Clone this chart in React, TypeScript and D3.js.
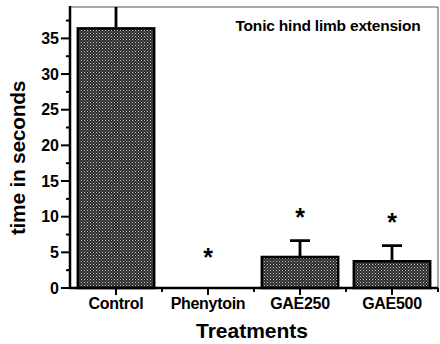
import { useRef, useEffect } from "react";
import * as d3 from "d3";

const categories = ["Control", "Phenytoin", "GAE250", "GAE500"];
const means = [36.4, 0, 4.35, 3.75];
const errors = [4.5, 0, 2.3, 2.2];
const starLevels = [null, 5.0, 10.6, 9.9];
const yTicks = [0, 5, 10, 15, 20, 25, 30, 35];

const App = () => {
  const svgRef = useRef<SVGSVGElement>(null);
  const width = 440;
  const height = 344;
  const margin = { top: 7, right: 2, bottom: 56, left: 70 };

  useEffect(() => {
    const svg = d3.select(svgRef.current);
    svg.selectAll("*").remove();
    const font = "'Liberation Sans', Arial, sans-serif";

    const x = d3
      .scaleBand()
      .domain(categories)
      .range([margin.left, width - margin.right])
      .paddingInner(0.17)
      .paddingOuter(0.085);

    const y = d3
      .scaleLinear()
      .domain([0, 39.4])
      .range([height - margin.bottom, margin.top]);

    const defs = svg.append("defs");
    const pat = defs
      .append("pattern")
      .attr("id", "stipple")
      .attr("width", 3)
      .attr("height", 3)
      .attr("patternUnits", "userSpaceOnUse");
    pat.append("rect").attr("width", 3).attr("height", 3).attr("fill", "#2a2a2a");
    pat.append("rect").attr("x", 0).attr("y", 0).attr("width", 1).attr("height", 1).attr("fill", "#c4c4c4");
    pat.append("rect").attr("x", 1.5).attr("y", 1.5).attr("width", 1).attr("height", 1).attr("fill", "#a0a0a0");

    defs
      .append("clipPath")
      .attr("id", "plotClip")
      .append("rect")
      .attr("x", margin.left)
      .attr("y", margin.top)
      .attr("width", width - margin.left - margin.right)
      .attr("height", height - margin.top - margin.bottom);

    // frame (top and right)
    svg
      .append("path")
      .attr("d", `M${margin.left},${margin.top}H${width - margin.right}V${y(0)}`)
      .attr("fill", "none")
      .attr("stroke", "#555")
      .attr("stroke-width", 1);

    const plot = svg.append("g").attr("clip-path", "url(#plotClip)");

    // error bars
    const idx = d3.range(categories.length).filter((i) => means[i] > 0);
    const cx = (i: number) => x(categories[i])! + x.bandwidth() / 2;
    plot
      .selectAll(".err")
      .data(idx)
      .join("path")
      .attr("class", "err")
      .attr("d", (i) => {
        const c = cx(i);
        const top = y(means[i] + errors[i]);
        return `M${c},${y(means[i])}V${top}M${c - 10},${top}H${c + 10}`;
      })
      .attr("stroke", "#000")
      .attr("stroke-width", 2.8)
      .attr("fill", "none");

    // bars
    svg
      .selectAll(".bar")
      .data(idx)
      .join("rect")
      .attr("class", "bar")
      .attr("x", (i) => x(categories[i])!)
      .attr("y", (i) => y(means[i]))
      .attr("width", x.bandwidth())
      .attr("height", (i) => y(0) - y(means[i]))
      .attr("fill", "url(#stipple)")
      .attr("stroke", "#000")
      .attr("stroke-width", 2.5);

    // stars
    svg
      .selectAll(".star")
      .data(d3.range(categories.length).filter((i) => starLevels[i] !== null))
      .join("text")
      .attr("class", "star")
      .attr("x", (i) => cx(i))
      .attr("y", (i) => y(starLevels[i] as number) + 14)
      .attr("text-anchor", "middle")
      .attr("font-family", font)
      .attr("font-weight", "bold")
      .attr("font-size", 25)
      .text("*");

    // y axis
    const yAxis = svg.append("g");
    yAxis
      .append("line")
      .attr("x1", margin.left)
      .attr("x2", margin.left)
      .attr("y1", margin.top - 1)
      .attr("y2", y(0) + 1)
      .attr("stroke", "#000")
      .attr("stroke-width", 2.5);
    const minor = d3.range(0, 39.4, 2.5);
    yAxis
      .selectAll(".ytick")
      .data(minor)
      .join("line")
      .attr("x1", (d) => (d % 5 === 0 ? margin.left - 9 : margin.left - 4))
      .attr("x2", margin.left)
      .attr("y1", (d) => y(d))
      .attr("y2", (d) => y(d))
      .attr("stroke", "#000")
      .attr("stroke-width", 2);
    yAxis
      .selectAll(".ylab")
      .data(yTicks)
      .join("text")
      .attr("x", margin.left - 11)
      .attr("y", (d) => y(d) + 5.5)
      .attr("text-anchor", "end")
      .attr("font-family", font)
      .attr("font-weight", "bold")
      .attr("font-size", 16)
      .text((d) => d);

    // x axis
    const xAxis = svg.append("g");
    xAxis
      .append("line")
      .attr("x1", margin.left - 1)
      .attr("x2", width - margin.right)
      .attr("y1", y(0))
      .attr("y2", y(0))
      .attr("stroke", "#000")
      .attr("stroke-width", 2.5);
    xAxis
      .selectAll(".xtick")
      .data(categories)
      .join("line")
      .attr("x1", (d) => x(d)! + x.bandwidth() / 2)
      .attr("x2", (d) => x(d)! + x.bandwidth() / 2)
      .attr("y1", y(0))
      .attr("y2", y(0) + 7)
      .attr("stroke", "#000")
      .attr("stroke-width", 2);
    const step = x.step();
    xAxis
      .selectAll(".xminor")
      .data(categories)
      .join("line")
      .attr("x1", (d) => x(d)! + x.bandwidth() / 2 + step / 2)
      .attr("x2", (d) => x(d)! + x.bandwidth() / 2 + step / 2)
      .attr("y1", y(0))
      .attr("y2", y(0) + 4)
      .attr("stroke", "#000")
      .attr("stroke-width", 2);
    xAxis
      .selectAll(".xlab")
      .data(categories)
      .join("text")
      .attr("x", (d) => x(d)! + x.bandwidth() / 2)
      .attr("y", y(0) + 21)
      .attr("text-anchor", "middle")
      .attr("font-family", font)
      .attr("font-weight", "bold")
      .attr("font-size", 16)
      .attr("letter-spacing", -0.3)
      .text((d) => d);

    // titles
    svg
      .append("text")
      .attr("x", 252)
      .attr("y", 338)
      .attr("text-anchor", "middle")
      .attr("font-family", font)
      .attr("font-weight", "bold")
      .attr("font-size", 21)
      .text("Treatments");
    svg
      .append("text")
      .attr("transform", `translate(25,158) rotate(-90)`)
      .attr("text-anchor", "middle")
      .attr("font-family", font)
      .attr("font-weight", "bold")
      .attr("font-size", 21)
      .attr("letter-spacing", -0.3)
      .text("time in seconds");
    svg
      .append("text")
      .attr("x", 328)
      .attr("y", 31)
      .attr("text-anchor", "middle")
      .attr("font-family", font)
      .attr("font-weight", "bold")
      .attr("font-size", 15.5)
      .attr("letter-spacing", -0.2)
      .text("Tonic hind limb extension");
  }, []);

  return (
    <svg
      ref={svgRef}
      width={width}
      height={height}
      style={{ position: "absolute", left: 0, top: 0, background: "#fff" }}
    />
  );
};

export default App;
